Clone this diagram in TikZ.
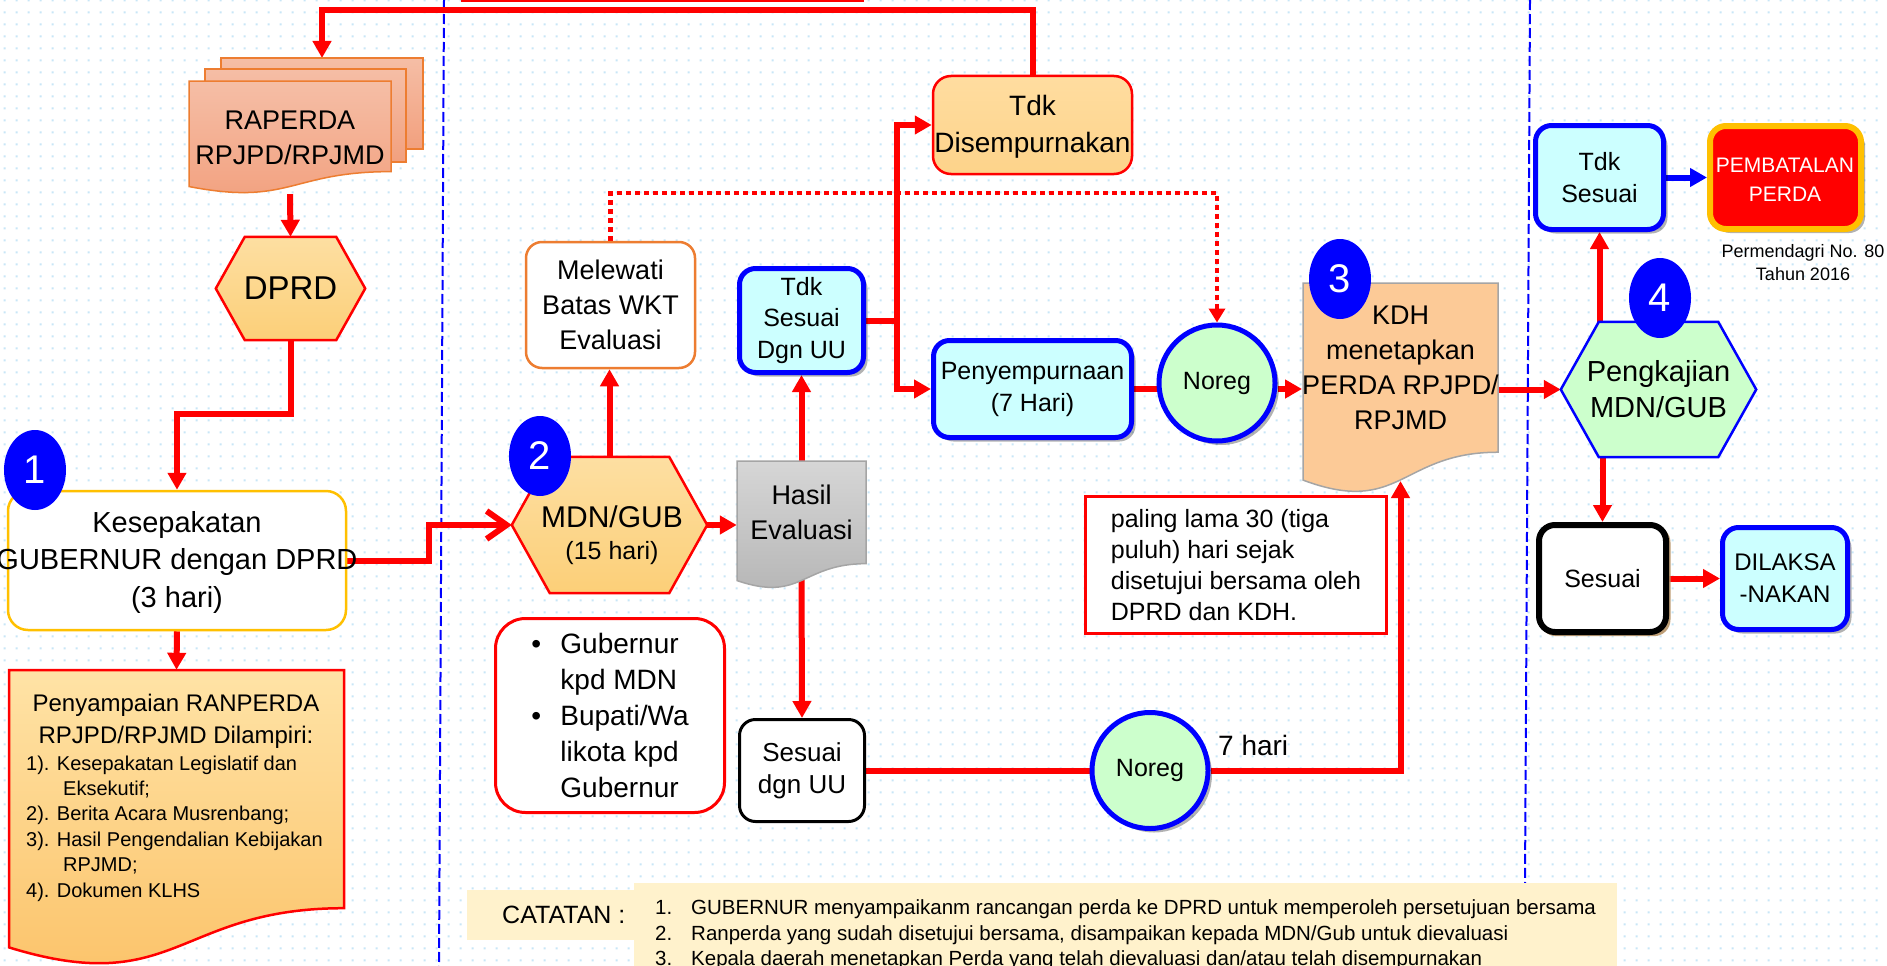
\documentclass[tikz,border=0pt]{standalone}
\usepackage{fontspec}
\setmainfont{Liberation Sans}
\usetikzlibrary{arrows.meta,shapes.geometric,shadows,calc,patterns.meta}
\definecolor{cred}{HTML}{FF0000}
\definecolor{cblue}{HTML}{0000FF}
\definecolor{ccyan}{HTML}{CCFFFF}
\definecolor{cgreen}{HTML}{CCFFCC}
\definecolor{cgold}{HTML}{FFC000}
\definecolor{corange}{HTML}{ED7D31}
\definecolor{chexa}{HTML}{FDDFA2}
\definecolor{chexb}{HTML}{FCCF78}
\definecolor{ctdisa}{HTML}{FFDDA0}
\definecolor{ctdisb}{HTML}{FDD38A}
\definecolor{crapa}{HTML}{F5BEA6}
\definecolor{crapb}{HTML}{F2A07E}
\definecolor{cpena}{HTML}{FFE3A6}
\definecolor{cpenb}{HTML}{FBC166}
\definecolor{ckdh}{HTML}{FCCA97}
\definecolor{cgraya}{HTML}{D6D6D6}
\definecolor{cgrayb}{HTML}{B4B4B4}
\definecolor{cgrayl}{HTML}{A5A5A5}
\definecolor{ccream}{HTML}{FFF2CC}
\definecolor{cdot}{HTML}{C8E6F7}
\definecolor{ctan}{HTML}{B89468}
\newcommand\fsz[2]{\fontsize{#1pt}{#2pt}\selectfont}
\newcommand\docshape[5]{\draw[#1] (#2,#3) -- (#4,#3) -- (#4,{#3+0.802*#5}) .. controls ({(#2+#4)/2},{#3+0.802*#5}) and ({(#2+#4)/2},{#3+1.1075*#5}) .. (#2,{#3+0.934*#5}) -- cycle;}
\newcommand\hexshape[3]{\draw[#1] (#2.west) -- ($(#2.north west)+(#3,0)$) -- ($(#2.north east)+(-#3,0)$) -- (#2.east) -- ($(#2.south east)+(-#3,0)$) -- ($(#2.south west)+(#3,0)$) -- cycle;}
\pgfdeclarelayer{bg}\pgfdeclarelayer{conn}\pgfdeclarelayer{shp}
\pgfsetlayers{bg,conn,shp,main}
\pgfdeclarepattern{name=bgdots, type=uncolored, bottom left={\pgfpoint{0pt}{0pt}}, top right={\pgfpoint{12pt}{12pt}}, tile size={\pgfpoint{12pt}{12pt}}, code={\pgfpathrectangle{\pgfpoint{5pt}{5pt}}{\pgfpoint{2.2pt}{2.2pt}}\pgfusepath{fill}}}
\begin{document}
\begin{tikzpicture}[x=1pt,y=-1pt,
  conn/.style={draw=cred, line width=6pt, -{Triangle[length=17pt,width=18pt]}},
  connl/.style={draw=cred, line width=6pt},
  connopen/.style={draw=cred, line width=6pt, -{Straight Barb[length=20pt,width=28pt]}},
  conndot/.style={draw=cred, line width=4.5pt, dash pattern=on 5pt off 4pt, -{Triangle[length=14pt,width=16pt]}},
  connblue/.style={draw=cblue, line width=6pt, -{Triangle[length=17pt,width=18pt]}},
  sep/.style={draw=cblue, line width=2pt, dash pattern=on 10pt off 4pt},
  rbox/.style={rectangle, rounded corners=16pt, align=center, inner sep=0pt},
  shd/.style={drop shadow={shadow xshift=4pt, shadow yshift=-4pt, fill=black, opacity=0.3}},
  bluebox/.style={rbox, draw=cblue, line width=5pt, fill=ccyan, shd},
  noreg/.style={circle, draw=cblue, line width=5pt, fill=cgreen, minimum size=116pt, inner sep=0pt, shd, font=\fsz{25}{30}},
  badge/.style={ellipse, fill=cblue, minimum width=62pt, minimum height=80pt, inner sep=0pt, text=white, font=\fsz{40}{48}},
  txt/.style={align=center, inner sep=0pt},
  catitem/.style={anchor=west, inner sep=0pt, font=\fsz{20.5}{25}, text height=15pt, text depth=4pt},
]
\useasboundingbox (0,0) rectangle (1887,966);
\clip (0,0) rectangle (1887,966);
\begin{pgfonlayer}{bg}
\fill[white] (0,0) rectangle (1887,966);
\fill[pattern=bgdots, pattern color=cdot] (0,0) rectangle (1887,966);
\draw[sep] (444,0) -- (439,966);
\draw[sep] (1530,0) -- (1525,883);
\fill[ccream] (467,890) rectangle (634,940);
\fill[ccream] (634,883) rectangle (1617,970);
\draw[cred, line width=2.5pt] (461,0.5) -- (864,0.5);
\end{pgfonlayer}

% column 1
\node[txt, minimum width=202pt, minimum height=113pt, font=\fsz{27}{35}] (rap) at (290,137.5) {RAPERDA\\RPJPD/RPJMD};
\coordinate (raptop) at (322,58);
\node[minimum width=149pt, minimum height=103pt, inner sep=0pt, font=\fsz{33}{40}] (dprd) at (290.5,288.5) {DPRD};
\node[rbox, rounded corners=20pt, draw=cgold, line width=2.5pt, fill=white, minimum width=338pt, minimum height=139pt] (kes) at (177,560.5) {};
\node[txt, font=\fsz{29}{37.5}] (kest) at (177,562) {Kesepakatan\\GUBERNUR dengan DPRD\\(3 hari)};
\node[badge] (b1) at (35,470) {1};
\node[minimum width=335pt, minimum height=238pt, inner sep=0pt] (pen) at (176.5,789) {};
\node[txt, font=\fsz{24}{32}] (pent) at (176,721) {Penyampaian RANPERDA\\RPJPD/RPJMD Dilampiri:};
\node[align=left, inner sep=0pt, anchor=west, font=\fsz{20}{25.4}] (penl) at (26,828.5) {1). Kesepakatan Legislatif dan\\\hspace*{37pt}Eksekutif;\\2). Berita Acara Musrenbang;\\3). Hasil Pengendalian Kebijakan\\\hspace*{37pt}RPJMD;\\4). Dokumen KLHS};

% column 2
\node[minimum width=195pt, minimum height=136pt, inner sep=0pt] (mdn) at (609.5,525) {};
\node[txt, font=\fsz{30}{36}] (mdnt) at (612,517) {MDN/GUB};
\node[txt, font=\fsz{25}{30}] (mdnd) at (612,553) {(15 hari)};
\node[badge] (b2) at (540,456) {2};
\node[rbox, draw=corange, line width=2.5pt, fill=white, minimum width=169pt, minimum height=126pt, font=\fsz{27}{35}] (mel) at (610.5,305) {Melewati\\Batas WKT\\Evaluasi};
\node[txt, minimum width=129pt, minimum height=103pt, font=\fsz{27}{35}] (has) at (801.5,512.5) {Hasil\\Evaluasi};
\node[bluebox, minimum width=124pt, minimum height=104pt, font=\fsz{25}{31.5}] (tsu) at (801.5,320.5) {Tdk\\Sesuai\\Dgn UU};
\node[rbox, rounded corners=18pt, draw=cred, line width=2.5pt, top color=ctdisa, bottom color=ctdisb, minimum width=199pt, minimum height=98pt] (tdis) at (1032.5,125) {};
\node[txt, font=\fsz{28}{37}] (tdist) at (1032.5,127) {Tdk\\Disempurnakan};
\node[bluebox, minimum width=198pt, minimum height=97pt, font=\fsz{25}{32}] (peny) at (1032.5,389) {Penyempurnaan\\(7 Hari)};
\node[noreg] (nor1) at (1217,383) {Noreg};
\node[txt, minimum width=195pt, minimum height=169pt, font=\fsz{27}{35}] (kdh) at (1400.5,367.5) {KDH\\menetapkan\\PERDA RPJPD/\\RPJMD};
\node[badge] (b3) at (1340,279) {3};

% column 3
\node[minimum width=195pt, minimum height=135pt, inner sep=0pt, align=center, font=\fsz{29}{36}] (pk) at (1658.5,389.5) {Pengkajian\\MDN/GUB};
\node[badge] (b4) at (1660,298) {4};
\node[bluebox, minimum width=128pt, minimum height=104pt, font=\fsz{25}{32}] (tsr) at (1599.5,177.5) {Tdk\\Sesuai};
\node[rbox, draw=cgold, line width=6pt, fill=cred, minimum width=151pt, minimum height=103pt, shd] (pemb) at (1785.5,177.5) {};
\node[txt, text=white, font=\fsz{21}{29}] (pembt) at (1785,180) {PEMBATALAN\\PERDA};
\node[txt, font=\fsz{18}{23}] (perm) at (1803,262.5) {Permendagri No. 80\\Tahun 2016};
\node[rbox, draw=black, line width=6pt, fill=white, minimum width=127pt, minimum height=107pt, font=\fsz{25}{30}, drop shadow={fill=ctan, opacity=0.9, shadow xshift=2.5pt, shadow yshift=-2.5pt, shadow scale=1.03}] (ses) at (1602.5,578.5) {Sesuai};
\node[bluebox, minimum width=125pt, minimum height=102pt, font=\fsz{24}{32}] (dil) at (1785,578.5) {DILAKSA\\-NAKAN};

% bottom
\node[rbox, draw=black, line width=3pt, fill=white, minimum width=125pt, minimum height=102pt, font=\fsz{26}{32}] (sdu) at (802,770.5) {Sesuai\\dgn UU};
\node[noreg] (nor2) at (1150,770.5) {Noreg};
\node[anchor=west, inner sep=0pt, font=\fsz{28}{34}] (lbl7) at (1218,745) {7 hari};
\node[rectangle, draw=cred, line width=3pt, fill=white, minimum width=301pt, minimum height=137pt, align=left, inner sep=0pt, font=\fsz{25}{31}] (pal) at (1236,565) {paling lama 30 (tiga\\puluh) hari sejak\\disetujui bersama oleh\\DPRD dan KDH.};
\node[rbox, rounded corners=30pt, draw=cred, line width=3pt, fill=white, minimum width=229pt, minimum height=194pt, align=left, font=\fsz{28}{36}] (gub) at (610,715.5) {\makebox[29pt][l]{•}Gubernur\\\hspace*{29pt}kpd MDN\\\makebox[29pt][l]{•}Bupati/Wa\\\hspace*{29pt}likota kpd\\\hspace*{29pt}Gubernur};

\node[anchor=west, inner sep=0pt, font=\fsz{25}{30}] (catl) at (502,915) {CATATAN :};
\node[catitem] (n1) at (655,909) {1.};
\node[catitem] (t1) at (691,909) {GUBERNUR menyampaikanm rancangan perda ke DPRD untuk memperoleh persetujuan bersama};
\node[catitem] (n2) at (655,934.5) {2.};
\node[catitem] (t2) at (691,934.5) {Ranperda yang sudah disetujui bersama, disampaikan kepada MDN/Gub untuk dievaluasi};
\node[catitem] (n3) at (655,960) {3.};
\node[catitem] (t3) at (691,960) {Kepala daerah menetapkan Perda yang telah dievaluasi dan/atau telah disempurnakan};

% shapes
\begin{pgfonlayer}{shp}
\draw[draw=corange, line width=1.5pt, top color=crapa, bottom color=crapb] (221,58) rectangle (423,149);
\draw[draw=corange, line width=1.5pt, top color=crapa, bottom color=crapb] (205,69) rectangle (406,162);
\docshape{draw=corange, line width=1.5pt, top color=crapa, bottom color=crapb}{189}{81}{391}{113}
\docshape{draw=cred, line width=2.5pt, top color=cpena, bottom color=cpenb}{9}{670}{344}{297}
\docshape{draw=cgrayl, line width=1.5pt, top color=cgraya, bottom color=cgrayb}{737}{461}{866}{128}
\docshape{draw=cgrayl, line width=1.5pt, fill=ckdh}{1303}{283}{1498}{211}
\hexshape{draw=cred, line width=2.5pt, top color=chexa, bottom color=chexb}{dprd}{29}
\hexshape{draw=cred, line width=2.5pt, top color=chexa, bottom color=chexb}{mdn}{38}
\hexshape{draw=cblue, line width=2.5pt, fill=cgreen}{pk}{38}
\end{pgfonlayer}

% connectors
\begin{pgfonlayer}{conn}
\coordinate (ytop) at (0,10);
\draw[conn] (tdis.north) -- (tdis.north |- ytop) -- (raptop |- ytop) -- (raptop);
\draw[conn] (rap.south) -- (dprd.north);
\coordinate (y414) at (0,414);
\draw[conn] (dprd.south) -- (dprd.south |- y414) -| (kes.north);
\draw[conn] (kes.south) -- (pen.north);
\coordinate (x429) at (429,0);
\draw[connopen] (kes.east) -- (kes.east -| x429) -- (x429 |- mdn.west) -- (mdn.west);
\draw[conn] (mdn.north) -- (mdn.north |- mel.south);
\coordinate (y193) at (0,193);
\draw[conndot] (mel.north) -- (mel.north |- y193) -| (nor1.north);
\draw[conn] (mdn.east) -- (mdn.east -| has.west);
\draw[conn] (has.north) -- (tsu.south);
\coordinate (jn) at (897,320.5);
\draw[connl] (tsu.east) -- (jn);
\draw[conn] (jn) |- (tdis.west);
\draw[conn] (jn) |- (peny.west);
\draw[connl] (peny.east) -- (peny.east -| nor1.west);
\draw[conn] (nor1.east |- peny.east) -- (kdh.west |- peny.east);
\draw[conn] (pk.west -| kdh.east) -- (pk.west);
\draw[conn] (tsr.south |- pk.north) -- (tsr.south);
\draw[connblue] (tsr.east) -- (pemb.west);
\draw[conn] (ses.north |- pk.south) -- (ses.north);
\draw[conn] (ses.east) -- (dil.west);
\draw[conn] (has.south) -- (sdu.north);
\draw[connl] (sdu.east) -- (nor2.west);
\coordinate (kdhb) at (1400.5,481);
\draw[conn] (nor2.east) -| (kdhb);
\end{pgfonlayer}
\end{tikzpicture}
\end{document}
